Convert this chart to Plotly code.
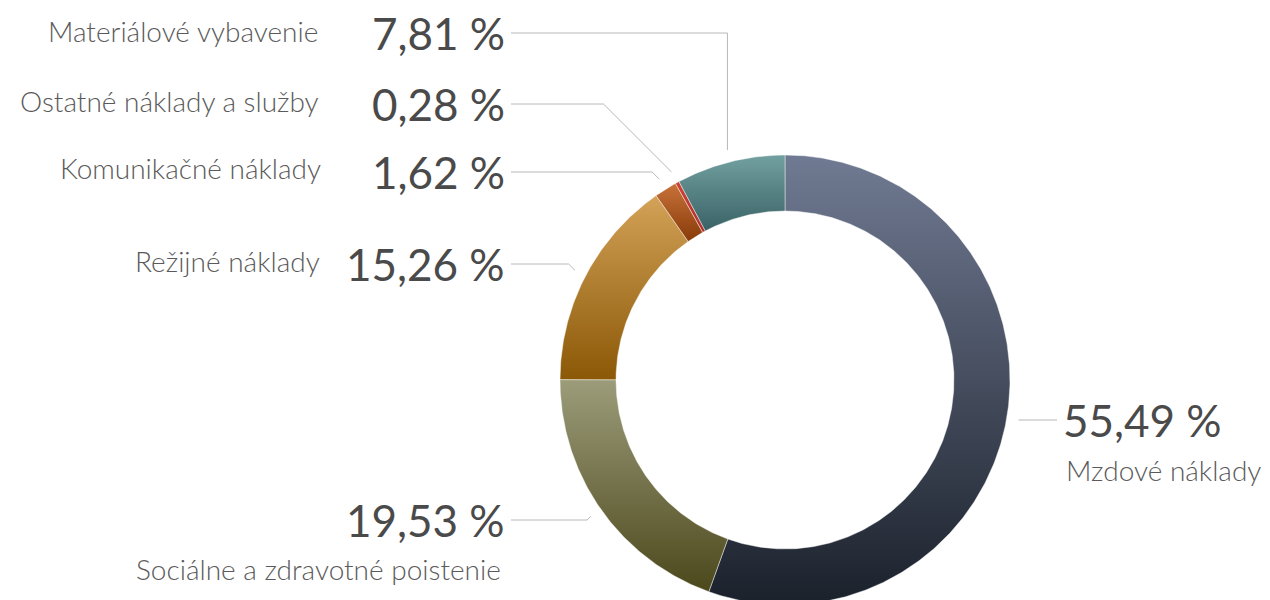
import numpy as np
import plotly.graph_objects as go

# ---- data (clockwise from 12 o'clock) ----
categories = ["Mzdové náklady", "Sociálne a zdravotné poistenie", "Režijné náklady",
              "Komunikačné náklady", "Ostatné náklady a služby", "Materiálové vybavenie"]
shares = [55.49, 19.53, 15.26, 1.62, 0.28, 7.81]
pct_labels = ["55,49 %", "19,53 %", "15,26 %", "1,62 %", "0,28 %", "7,81 %"]

# gradient colours (top, bottom)
top_colors = ["#707a92", "#9c9c7a", "#d4a258", "#c8723a", "#cc4436", "#72a0a0"]
bottom_colors = ["#1b212b", "#4c481c", "#8a5806", "#883a08", "#b0302a", "#3a6266"]

# ---- layout constants (page pixels) ----
W, H = 1270, 600
OFF = 8  # default page body margin
CX, CY = 785, 380
R_OUT, R_IN, R_LINE = 225, 169, 237

# label layout: (pct_x, pct_y, pct_anchor, name_x, name_y, name_anchor, elbow)
label_layout = [
    (1061, 420, "left", 1064, 470, "left", "none"),
    (507, 520, "right", 503, 569, "right", "diag"),
    (507, 264, "right", 322, 261, "right", "diag"),
    (507, 172, "right", 323, 168, "right", "diag"),
    (507, 104, "right", 321, 101, "right", "diag"),
    (507, 33, "right", 320, 31, "right", "vert"),
]


def py(yp):
    return H - yp


fig = go.Figure()

total = sum(shares)
cum = np.concatenate([[0], np.cumsum(shares)]) / total * 2 * np.pi
for i, name in enumerate(categories):
    a0, a1 = cum[i], cum[i + 1]
    n = max(int((a1 - a0) / (2 * np.pi) * 720), 4)
    th = np.linspace(a0, a1, n)
    xo = CX + R_OUT * np.sin(th)
    yo = CY - R_OUT * np.cos(th)
    xi = CX + R_IN * np.sin(th[::-1])
    yi = CY - R_IN * np.cos(th[::-1])
    xs = np.concatenate([xo, xi, [xo[0]]])
    ys = np.concatenate([yo, yi, [yo[0]]])
    fig.add_trace(go.Scatter(
        x=xs, y=py(ys), mode="lines", fill="toself",
        line=dict(color="rgba(255,255,255,0.55)", width=0.8),
        fillgradient=dict(type="vertical",
                          colorscale=[[0, bottom_colors[i]], [1, top_colors[i]]]),
        hoverinfo="text", text=f"{name}: {pct_labels[i]}", showlegend=False,
    ))

# connectors and labels
for i, name in enumerate(categories):
    mid = (cum[i] + cum[i + 1]) / 2
    ex = CX + R_LINE * np.sin(mid)
    ey = CY - R_LINE * np.cos(mid)
    px_, py_, pa, nx, ny, na, elbow = label_layout[i]
    if elbow == "none":
        lx = [ex, px_ - 4]
        ly = [py_, py_]
    elif elbow == "vert":
        lx = [px_ + 4, ex, ex]
        ly = [py_, py_, ey]
    else:
        bx = ex - abs(ey - py_)
        lx = [px_ + 4, bx, ex]
        ly = [py_, py_, ey]
    fig.add_trace(go.Scatter(x=lx, y=[py(v) for v in ly], mode="lines",
                             line=dict(color="#b8b8b8", width=1),
                             hoverinfo="skip", showlegend=False))
    fig.add_annotation(x=px_, y=py(py_), text=pct_labels[i], showarrow=False,
                       xanchor=pa, yanchor="middle",
                       font=dict(family="Lato", size=44, color="#4a4a4a", weight=400))
    fig.add_annotation(x=nx, y=py(ny), text=name, showarrow=False,
                       xanchor=na, yanchor="middle",
                       font=dict(family="Lato", size=28, color="#5a5a5a", weight=300))

fig.update_layout(
    width=W, height=H,
    margin=dict(l=0, r=0, t=0, b=0),
    paper_bgcolor="white", plot_bgcolor="white",
    xaxis=dict(range=[OFF, W + OFF], visible=False, fixedrange=True),
    yaxis=dict(range=[-OFF, H - OFF], visible=False, fixedrange=True),
    showlegend=False,
)

fig.write_html("out.html")
